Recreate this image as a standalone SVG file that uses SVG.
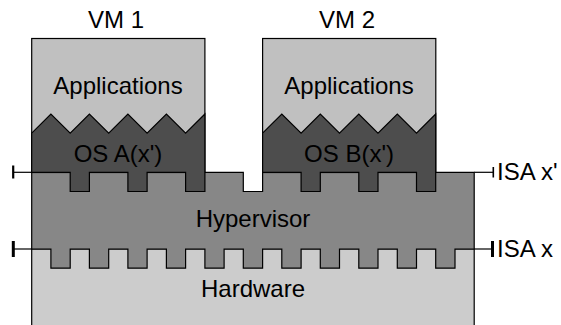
<svg xmlns="http://www.w3.org/2000/svg" width="561" height="325" viewBox="0 0 561 325">
<style>
.t{font-family:"Liberation Sans",Arial,sans-serif;font-size:24px;fill:#000;}
.c{text-anchor:middle;}
.ln{stroke:#000;stroke-width:1.2;fill:none;}
.app{fill:#c0c0c0;stroke:#000;stroke-width:1.2;}
.os{fill:#4d4d4d;stroke:#000;stroke-width:1.2;stroke-linejoin:miter;}
.hv{fill:#878787;stroke:#000;stroke-width:1.2;}
.hw{fill:#cccccc;stroke:#000;stroke-width:1.2;}
</style>
<rect width="561" height="325" fill="#fff"/>
<g id="hardware">
<rect class="hw" x="31.7" y="249" width="442.5" height="90"/>
<text class="t c" x="253" y="297">Hardware</text>
</g>
<g id="hypervisor">
<path class="hv" d="M31.7,172.3 H243.3 V191.5 H262.6 V172.3 H474.2 V249 H455 V268.2 H435.7 V249 H416.5 V268.2 H397.3 V249 H378 V268.2 H358.8 V249 H339.5 V268.2 H320.3 V249 H301.1 V268.2 H281.8 V249 H262.6 V268.2 H243.3 V249 H224.1 V268.2 H204.9 V249 H185.6 V268.2 H166.4 V249 H147.1 V268.2 H127.9 V249 H108.7 V268.2 H89.4 V249 H70.2 V268.2 H50.9 V249 H31.7 Z"/>
<text class="t c" x="253" y="227">Hypervisor</text>
</g>
<g id="vm1">
<rect class="app" x="31.7" y="38.5" width="173.2" height="134"/>
<path class="os" d="M31.7,133.2 L50.9,114 L70.2,133.2 L89.4,114 L108.7,133.2 L127.9,114 L147.1,133.2 L166.4,114 L185.6,133.2 L204.9,114 V191.5 H185.6 V172.3 H147.1 V191.5 H127.9 V172.3 H89.4 V191.5 H70.2 V172.3 H31.7 Z"/>
<text class="t c" x="116" y="28">VM 1</text>
<text class="t c" x="118" y="94">Applications</text>
<text class="t c" x="118" y="161.5">OS A(x')</text>
</g>
<g id="vm2">
<rect class="app" x="262.6" y="38.5" width="173.2" height="134"/>
<path class="os" d="M262.6,133.2 L281.8,114 L301.1,133.2 L320.3,114 L339.5,133.2 L358.8,114 L378,133.2 L397.3,114 L416.5,133.2 L435.7,114 V191.5 H416.5 V172.3 H378 V191.5 H358.8 V172.3 H320.3 V191.5 H301.1 V172.3 H262.6 Z"/>
<text class="t c" x="347" y="28">VM 2</text>
<text class="t c" x="349" y="94">Applications</text>
<text class="t c" x="349" y="161.5">OS B(x')</text>
</g>
<g id="connectors">
<line class="ln" x1="13" y1="172.3" x2="31.7" y2="172.3"/>
<line x1="13.2" y1="165.5" x2="13.2" y2="178.5" stroke="#000" stroke-width="2.2"/>
<line class="ln" x1="13" y1="249" x2="31.7" y2="249"/>
<line x1="13.3" y1="241" x2="13.3" y2="257" stroke="#000" stroke-width="3"/>
<line class="ln" x1="474.2" y1="172.3" x2="493" y2="172.3"/>
<line x1="493.3" y1="167" x2="493.3" y2="177.5" stroke="#000" stroke-width="1.6"/>
<line class="ln" x1="474.2" y1="249" x2="492" y2="249"/>
<line x1="492.5" y1="241" x2="492.5" y2="257" stroke="#000" stroke-width="3"/>
</g>
<g id="labels">
<text class="t" x="497" y="180">ISA x'</text>
<text class="t" x="497" y="257">ISA x</text>
</g>
</svg>
